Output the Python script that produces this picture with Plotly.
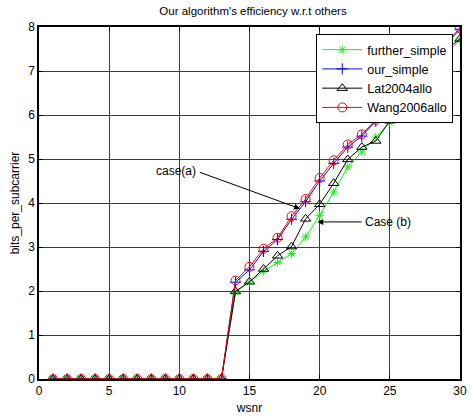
import plotly.graph_objects as go

wsnr = list(range(1, 31))
zeros13 = [0.0] * 13
further_simple = zeros13 + [1.97, 2.20, 2.45, 2.65, 2.85, 3.23, 3.72, 4.25, 4.82, 5.16, 5.50, 5.83,
                            6.15, 6.55, 6.95, 7.40, 7.70]
our_simple = zeros13 + [2.20, 2.48, 2.90, 3.17, 3.63, 4.03, 4.50, 4.90, 5.27, 5.52, 5.86, 6.15,
                        6.45, 6.80, 7.15, 7.60, 7.95]
lat2004allo = zeros13 + [1.99, 2.21, 2.50, 2.80, 3.01, 3.64, 3.97, 4.45, 4.99, 5.27, 5.41, 5.87,
                         6.20, 6.60, 7.00, 7.48, 7.73]
wang2006allo = zeros13 + [2.24, 2.55, 2.96, 3.21, 3.70, 4.09, 4.57, 4.97, 5.33, 5.56, 5.89, 6.20,
                          6.50, 6.85, 7.20, 7.65, 7.97]

title = "Our algorithm's efficiency w.r.t others"
x_label = "wsnr"
y_label = "bits_per_subcarrier"
x_ticks = [0, 5, 10, 15, 20, 25, 30]
y_ticks = [0, 1, 2, 3, 4, 5, 6, 7, 8]

FONT = "Liberation Sans, Arial, sans-serif"

fig = go.Figure()
series = [
    ("further_simple", further_simple, "#00ff00", "asterisk-open", 7),
    ("our_simple", our_simple, "#0000ff", "cross-thin-open", 8),
    ("Lat2004allo", lat2004allo, "#000000", "triangle-up-open", 9),
    ("Wang2006allo", wang2006allo, "#ff0000", "circle-open", 9),
]
for name, ys, col, sym, sz in series:
    fig.add_trace(go.Scatter(
        x=wsnr, y=ys, name=name, mode="lines+markers",
        line=dict(color=col, width=1),
        marker=dict(symbol=sym, size=sz, color=col, line=dict(color=col, width=1)),
    ))

axis_common = dict(
    showline=True, mirror="ticks", linecolor="black", linewidth=1.5,
    ticks="inside", ticklen=4, tickcolor="black",
    showgrid=True, gridcolor="#3c3c3c", gridwidth=1, zeroline=False,
    tickfont=dict(family=FONT, size=12, color="black"),
)
fig.update_xaxes(range=[0, 30], tickvals=x_ticks, title=dict(text=x_label, standoff=6,
                 font=dict(family=FONT, size=12, color="black")), **axis_common)
fig.update_yaxes(range=[0, 8], tickvals=y_ticks, title=dict(text=y_label, standoff=6,
                 font=dict(family=FONT, size=12, color="black")), **axis_common)

# annotations
fig.add_annotation(x=18.6, y=3.87, ax=11.36, ay=4.71, axref="x", ayref="y", xref="x", yref="y",
                   text="", showarrow=True, arrowhead=2, arrowsize=1.2, arrowwidth=1, arrowcolor="black")
fig.add_annotation(x=9.78, y=4.72, xref="x", yref="y", text="case(a)", showarrow=False,
                   font=dict(family=FONT, size=12, color="black"))
fig.add_annotation(x=19.83, y=3.57, ax=23.1, ay=3.57, axref="x", ayref="y", xref="x", yref="y",
                   text="", showarrow=True, arrowhead=2, arrowsize=1.2, arrowwidth=1, arrowcolor="black")
fig.add_annotation(x=24.86, y=3.57, xref="x", yref="y", text="Case (b)", showarrow=False,
                   font=dict(family=FONT, size=12, color="black"))

fig.update_layout(
    width=472, height=418,
    margin=dict(l=39, r=5, t=27, b=35),
    paper_bgcolor="white", plot_bgcolor="white",
    title=dict(text=title, x=0.536, xanchor="center", y=1 - 11 / 418, yanchor="middle",
               font=dict(family=FONT, size=11.5, color="black")),
    showlegend=True,
    legend=dict(x=0.984, xanchor="right", y=0.98, yanchor="top",
                bgcolor="white", bordercolor="black", borderwidth=1,
                font=dict(family=FONT, size=12.5, color="black"),
                itemwidth=40, tracegroupgap=0),
)

fig.write_html("out.html", config={"displayModeBar": False},
               post_script="document.body.style.margin='0px';")
